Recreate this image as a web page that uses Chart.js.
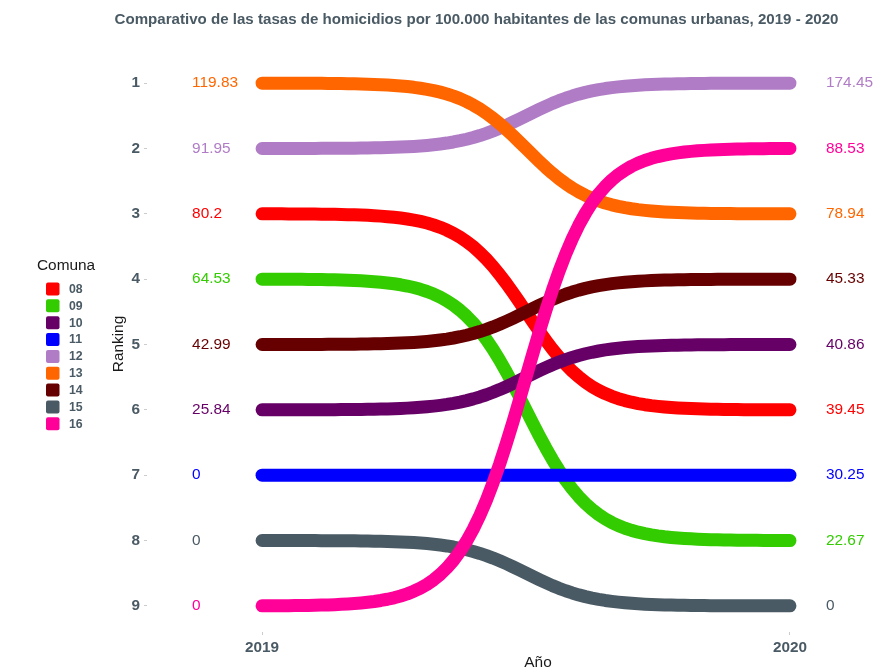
<!DOCTYPE html>
<html lang="es">
<head>
<meta charset="UTF-8">
<title>Comparativo tasas de homicidios 2019 - 2020</title>
<script src="https://cdn.jsdelivr.net/npm/chart.js@4.4.0/dist/chart.umd.min.js"></script>
<style>
  html, body { margin: 0; padding: 0; background: #fff; }
</style>
</head>
<body>
<canvas id="bumpChart" width="876" height="669"></canvas>
<script>
// datos
const comunas  = ['08', '09', '10', '11', '12', '13', '14', '15', '16'];
const colores  = ['#ff0000', '#33cc00', '#660066', '#0000ff', '#b07cc6', '#ff6600', '#660000', '#4a5a64', '#ff0099'];
const years    = [2019, 2020];
const rank2019 = [3, 4, 6, 7, 2, 1, 5, 8, 9];
const rank2020 = [6, 8, 5, 7, 1, 3, 4, 9, 2];
const tasa2019 = [80.2, 64.53, 25.84, 0, 91.95, 119.83, 42.99, 0, 0];
const tasa2020 = [39.45, 22.67, 40.86, 30.25, 174.45, 78.94, 45.33, 0, 88.53];
const rankTicks = [1, 2, 3, 4, 5, 6, 7, 8, 9];

const FONT = "'Liberation Sans', Arial, Helvetica, sans-serif";
const SLATE = '#4a5a64';

const datasets = comunas.map((c, i) => ({
    label: c,
    data: [{ x: years[0], y: rank2019[i] }, { x: years[1], y: rank2020[i] }],
    borderColor: colores[i],
    backgroundColor: colores[i],
    showLine: false,
    pointRadius: 0
}));

// curva sigmoide tipo geom_bump entre los dos puntos de cada comuna
const bumpPlugin = {
    id: 'bump',
    beforeDatasetsDraw(chart) {
        const { ctx, scales: { x, y } } = chart;
        const smooth = 8, n = 80;
        const sig = u => 1 / (1 + Math.exp(-u));
        const s0 = sig(-smooth), s1 = sig(smooth);
        ctx.save();
        chart.data.datasets.forEach(ds => {
            const p0 = ds.data[0], p1 = ds.data[1];
            const x0 = x.getPixelForValue(p0.x), x1 = x.getPixelForValue(p1.x);
            const y0 = y.getPixelForValue(p0.y), y1 = y.getPixelForValue(p1.y);
            ctx.beginPath();
            for (let k = 0; k <= n; k++) {
                const t = k / n;
                const s = (sig(-smooth + 2 * smooth * t) - s0) / (s1 - s0);
                const px = x0 + (x1 - x0) * t;
                const py = y0 + (y1 - y0) * s;
                if (k === 0) ctx.moveTo(px, py); else ctx.lineTo(px, py);
            }
            ctx.strokeStyle = ds.borderColor;
            ctx.lineWidth = 13;
            ctx.lineCap = 'round';
            ctx.lineJoin = 'round';
            ctx.stroke();
        });
        ctx.restore();
    }
};

// titulo, etiquetas de valores, leyenda y titulos de ejes
const decorPlugin = {
    id: 'decor',
    afterDraw(chart) {
        const { ctx, scales: { x, y } } = chart;
        ctx.save();

        ctx.fillStyle = SLATE;
        ctx.font = 'bold 15.1px ' + FONT;
        ctx.textAlign = 'center';
        ctx.textBaseline = 'middle';
        ctx.fillText('Comparativo de las tasas de homicidios por 100.000 habitantes de las comunas urbanas, 2019 - 2020', 476.5, 20);

        ctx.font = '15.4px ' + FONT;
        ctx.textAlign = 'left';
        comunas.forEach((c, i) => {
            ctx.fillStyle = colores[i];
            ctx.fillText(String(tasa2019[i]), x.getPixelForValue(years[0]) - 70, y.getPixelForValue(rank2019[i]));
            ctx.fillText(String(tasa2020[i]), x.getPixelForValue(years[1]) + 36, y.getPixelForValue(rank2020[i]));
        });

        // ejes
        ctx.fillStyle = '#1a1a1a';
        ctx.textAlign = 'center';
        ctx.fillText('Año', 538, 663);
        ctx.save();
        ctx.translate(119, 344);
        ctx.rotate(-Math.PI / 2);
        ctx.fillText('Ranking', 0, 0);
        ctx.restore();

        // leyenda
        ctx.textAlign = 'left';
        ctx.fillText('Comuna', 37, 266);
        ctx.font = 'bold 12.3px ' + FONT;
        comunas.forEach((c, i) => {
            const cy = 289 + i * 16.85;
            ctx.fillStyle = colores[i];
            ctx.beginPath();
            ctx.roundRect(46, cy - 6.5, 13.5, 13, 2);
            ctx.fill();
            ctx.fillStyle = SLATE;
            ctx.fillText(c, 69, cy + 0.5);
        });

        ctx.restore();
    }
};

new Chart(document.getElementById('bumpChart'), {
    type: 'line',
    data: { datasets },
    options: {
        responsive: false,
        animation: false,
        layout: { padding: { top: 57, left: 0, right: 0, bottom: 0 } },
        plugins: {
            legend: { display: false },
            title: { display: false },
            tooltip: { enabled: false }
        },
        scales: {
            x: {
                type: 'linear',
                min: 2018.782,
                max: 2020.163,
                afterBuildTicks: s => { s.ticks = years.map(v => ({ value: v })); },
                afterFit: s => { s.height = 37; },
                ticks: {
                    callback: v => String(v),
                    color: SLATE,
                    font: { family: FONT, size: 15.3, weight: 'bold' },
                    padding: 4,
                    maxRotation: 0
                },
                grid: { drawOnChartArea: false, tickLength: 3, color: '#cccccc' },
                border: { display: false }
            },
            y: {
                type: 'linear',
                reverse: true,
                min: 0.6,
                max: 9.4,
                afterBuildTicks: s => { s.ticks = rankTicks.map(v => ({ value: v })); },
                afterFit: s => { s.width = 147; },
                ticks: {
                    callback: v => String(v),
                    color: SLATE,
                    font: { family: FONT, size: 15.3, weight: 'bold' },
                    padding: 4
                },
                grid: { drawOnChartArea: false, tickLength: 3, color: '#cccccc' },
                border: { display: false }
            }
        }
    },
    plugins: [bumpPlugin, decorPlugin]
});
</script>
</body>
</html>
